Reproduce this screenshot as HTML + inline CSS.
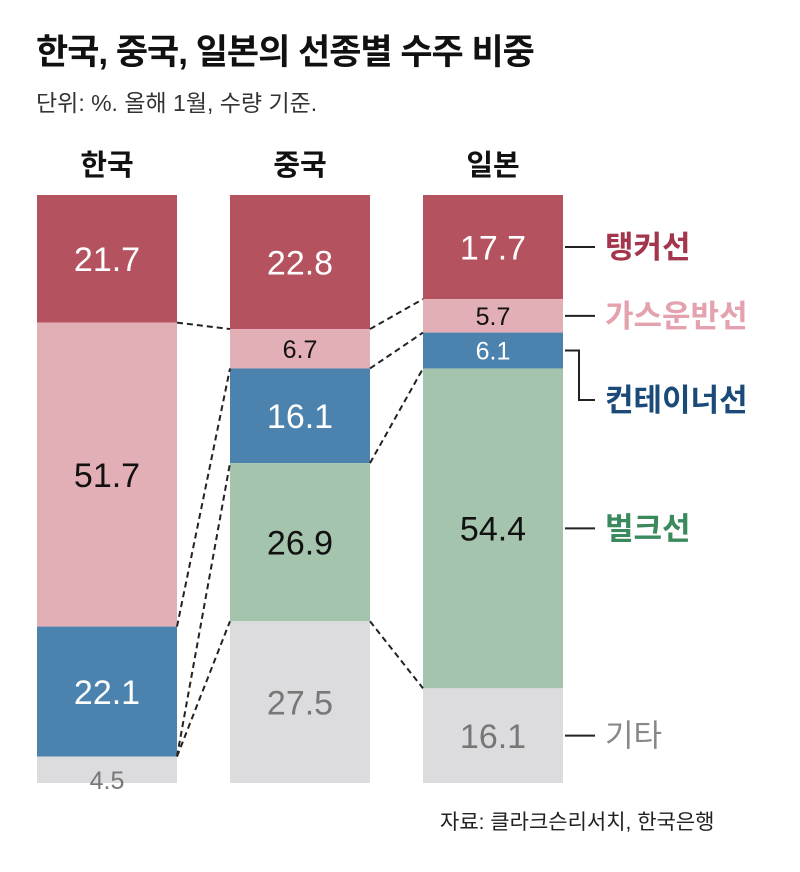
<!DOCTYPE html>
<html><head><meta charset="utf-8"><style>
body{margin:0;background:#fff;font-family:"Liberation Sans","Noto Sans CJK KR",sans-serif;}
#wrap{position:relative;width:800px;height:872px;overflow:hidden;}
.t{position:absolute;white-space:nowrap;}
</style></head><body>
<div id="wrap">
<div class="t" style="left:36px;top:24px;font-size:35px;font-weight:bold;color:#111;letter-spacing:-1px">한국, 중국, 일본의 선종별 수주 비중</div>
<div class="t" style="left:36px;top:84px;font-size:23px;color:#333;">단위: %. 올해 1월, 수량 기준.</div>
<svg id="svg" width="800" height="872" style="position:absolute;left:0;top:0"></svg>
<div class="t" style="left:440px;top:806px;font-size:21px;color:#222;">자료: 클라크슨리서치, 한국은행</div>
</div>
<script>
const countries=["한국","중국","일본"];
const types=["탱커선","가스운반선","컨테이너선","벌크선","기타"];
const korea=[21.7,51.7,22.1,0,4.5];
const china=[22.8,6.7,16.1,26.9,27.5];
const japan=[17.7,5.7,6.1,54.4,16.1];
const series=[korea,china,japan];
const fills=["#b4525f","#e3afb6","#4b82ae","#a5c4ae","#dcdcde"];
const textCol=["#fff","#111","#fff","#111","#777"];
const legendCol=["#a3364c","#e3a2ad","#1b4a79","#3b8a5d","#888"];
const svg=document.getElementById('svg');
const NS="http://www.w3.org/2000/svg";
const top0=195,bot0=783,barW=140,xs=[37,230,423];
const y=v=>top0+(bot0-top0)*v/100;
function mk(t,a){const e=document.createElementNS(NS,t);for(const k in a)e.setAttribute(k,a[k]);svg.appendChild(e);return e;}
const cums=[];
series.forEach((s,ci)=>{
  const h=mk('text',{x:xs[ci]+barW/2,y:175,'text-anchor':'middle','font-size':29,'font-weight':'bold',fill:'#111'});
  
  
  h.textContent=countries[ci];
  let c=0;const cc=[0];
  s.forEach((v,i)=>{
    const y1=y(c),y2=y(c+v);
    if(v>0){
      const r=mk('rect',{x:xs[ci],y:y1,width:barW,height:y2-y1,fill:fills[i]});
      
      
      const fs=(y2-y1)<45?25:34;
      const t=mk('text',{x:xs[ci]+barW/2,y:(y1+y2)/2+fs*0.36,'text-anchor':'middle','font-size':fs,fill:textCol[i]});
      
      
      t.textContent=v.toFixed(1);
      if(v<5){t.setAttribute('y',y2+6);}
    }
    c+=v;cc.push(c);
  });
  cums.push(cc);
});
for(let ci=0;ci<2;ci++){
  for(let k=1;k<types.length;k++){
    const l=mk('line',{x1:xs[ci]+barW,y1:y(cums[ci][k]),x2:xs[ci+1],y2:y(cums[ci+1][k]),stroke:'#222','stroke-width':2,'stroke-dasharray':'6,4'});
    
    
  }
}
// legend labels at Japan segments
const lx=xs[2]+barW;
types.forEach((n,i)=>{
  const m=(y(cums[2][i])+y(cums[2][i+1]))/2;
  let ty=m;
  if(i===2){ty=400;const p=mk('polyline',{points:`${lx+2},${m} ${lx+16},${m} ${lx+16},${ty} ${lx+32},${ty}`,fill:'none',stroke:'#222','stroke-width':2});
    }
  else{const l=mk('line',{x1:lx+2,y1:ty,x2:lx+32,y2:ty,stroke:'#222','stroke-width':2});
    }
  const t=mk('text',{x:lx+42,y:ty+11,'font-size':31,'font-weight':i===4?'normal':'bold',fill:legendCol[i]});
  
  
  t.textContent=n;
});
</script>
</body></html>
